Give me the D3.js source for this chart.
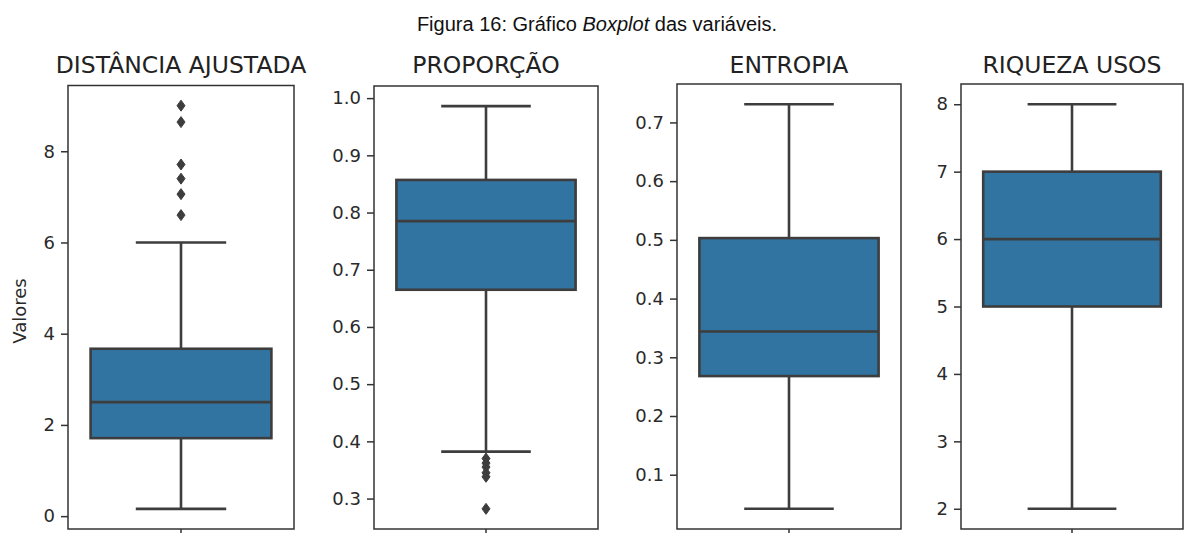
<!DOCTYPE html>
<html>
<head>
<meta charset="utf-8">
<script src="https://cdn.jsdelivr.net/npm/d3@7"></script>
<style>
  html, body { margin: 0; padding: 0; background: #fff; }
  svg { display: block; }
</style>
</head>
<body>
<svg id="chart" width="1184" height="533"></svg>
<script>
// ---- data ----
const figureTitle = ["Figura 16: Gráfico ", "Boxplot", " das variáveis."];
const yLabel = "Valores";
const variables = ["DISTÂNCIA AJUSTADA", "PROPORÇÃO", "ENTROPIA", "RIQUEZA USOS"];
const whiskerLow  = [0.16, 0.382, 0.042, 2];
const q1          = [1.71, 0.665, 0.268, 5];
const median      = [2.50, 0.785, 0.344, 6];
const q3          = [3.67, 0.857, 0.503, 7];
const whiskerHigh = [6.00, 0.986, 0.731, 8];
const outliers = [
  [9.00, 8.64, 7.71, 7.40, 7.06, 6.60],
  [0.370, 0.362, 0.355, 0.345, 0.338, 0.282],
  [],
  []
];
const tickValues = [
  [0, 2, 4, 6, 8],
  [0.3, 0.4, 0.5, 0.6, 0.7, 0.8, 0.9, 1.0],
  [0.1, 0.2, 0.3, 0.4, 0.5, 0.6, 0.7],
  [2, 3, 4, 5, 6, 7, 8]
];
const tickFormats = ["d", ".1f", ".1f", "d"];

// ---- layout ----
const panelLeft  = [68, 374, 677, 961];
const panelRight = [294, 598, 901, 1183];
const panelTop   = [85.5, 86, 84, 84];
const panelBottom = 529;
const boxFill = "#3274a1";
const lineColor = "#3d3d3d";
const tickFont = "'DejaVu Sans', sans-serif";

const svg = d3.select("#chart");

// figure title
const ft = svg.append("text")
  .attr("x", 597).attr("y", 31)
  .attr("text-anchor", "middle")
  .attr("font-family", "'Liberation Sans', Arial, sans-serif")
  .attr("font-size", 20)
  .attr("fill", "#111");
ft.append("tspan").text(figureTitle[0]);
ft.append("tspan").attr("font-style", "italic").text(figureTitle[1]);
ft.append("tspan").text(figureTitle[2]);

// y label
svg.append("text")
  .attr("transform", "translate(26,311) rotate(-90)")
  .attr("text-anchor", "middle")
  .attr("font-family", tickFont)
  .attr("font-size", 18)
  .attr("fill", "#2a2a2a")
  .text(yLabel);

variables.forEach((name, i) => {
  const vals = [whiskerLow[i], whiskerHigh[i], ...outliers[i]];
  const lo = d3.min(vals), hi = d3.max(vals);
  const pad = (hi - lo) * 0.05;
  const y = d3.scaleLinear().domain([lo - pad, hi + pad]).range([panelBottom, panelTop[i]]);
  const x = d3.scaleLinear().domain([-0.5, 0.5]).range([panelLeft[i], panelRight[i]]);
  const g = svg.append("g");

  // y axis
  const axis = d3.axisLeft(y).tickValues(tickValues[i]).tickFormat(d3.format(tickFormats[i]))
    .tickSizeOuter(0).tickSizeInner(7).tickPadding(6);
  const ag = g.append("g").attr("transform", `translate(${panelLeft[i]},0)`).call(axis);
  ag.select(".domain").remove();
  ag.selectAll(".tick line").attr("stroke", "#333").attr("stroke-width", 1.5);
  ag.selectAll(".tick text").attr("font-family", tickFont).attr("font-size", 18).attr("fill", "#2a2a2a");

  // x tick at center
  g.append("line")
    .attr("x1", x(0)).attr("x2", x(0))
    .attr("y1", panelBottom).attr("y2", panelBottom + 7)
    .attr("stroke", "#333").attr("stroke-width", 1.5);

  // whiskers
  g.append("line").attr("x1", x(0)).attr("x2", x(0))
    .attr("y1", y(q3[i])).attr("y2", y(whiskerHigh[i]))
    .attr("stroke", lineColor).attr("stroke-width", 2.6);
  g.append("line").attr("x1", x(0)).attr("x2", x(0))
    .attr("y1", y(q1[i])).attr("y2", y(whiskerLow[i]))
    .attr("stroke", lineColor).attr("stroke-width", 2.6);
  // caps
  [whiskerLow[i], whiskerHigh[i]].forEach(v => {
    g.append("line").attr("x1", x(-0.2)).attr("x2", x(0.2))
      .attr("y1", y(v)).attr("y2", y(v))
      .attr("stroke", lineColor).attr("stroke-width", 2.6);
  });
  // box
  g.append("rect")
    .attr("x", x(-0.4)).attr("width", x(0.4) - x(-0.4))
    .attr("y", y(q3[i])).attr("height", y(q1[i]) - y(q3[i]))
    .attr("fill", boxFill).attr("stroke", lineColor).attr("stroke-width", 2.6);
  // median
  g.append("line").attr("x1", x(-0.4)).attr("x2", x(0.4))
    .attr("y1", y(median[i])).attr("y2", y(median[i]))
    .attr("stroke", lineColor).attr("stroke-width", 2.6);
  // outliers (thin diamonds)
  g.selectAll("path.flier").data(outliers[i]).enter().append("path")
    .attr("class", "flier")
    .attr("d", "M0,-5.5 L4,0 L0,5.5 L-4,0 Z")
    .attr("transform", d => `translate(${x(0)},${y(d)})`)
    .attr("fill", lineColor).attr("stroke", lineColor).attr("stroke-width", 1);

  // frame
  g.append("rect")
    .attr("x", panelLeft[i]).attr("y", panelTop[i])
    .attr("width", panelRight[i] - panelLeft[i]).attr("height", panelBottom - panelTop[i])
    .attr("fill", "none").attr("stroke", "#333").attr("stroke-width", 1.5);

  // title
  svg.append("text")
    .attr("x", (panelLeft[i] + panelRight[i]) / 2).attr("y", 72.5)
    .attr("text-anchor", "middle")
    .attr("font-family", tickFont)
    .attr("font-size", 23.5)
    .attr("fill", "#222")
    .text(name);
});
</script>
</body>
</html>
